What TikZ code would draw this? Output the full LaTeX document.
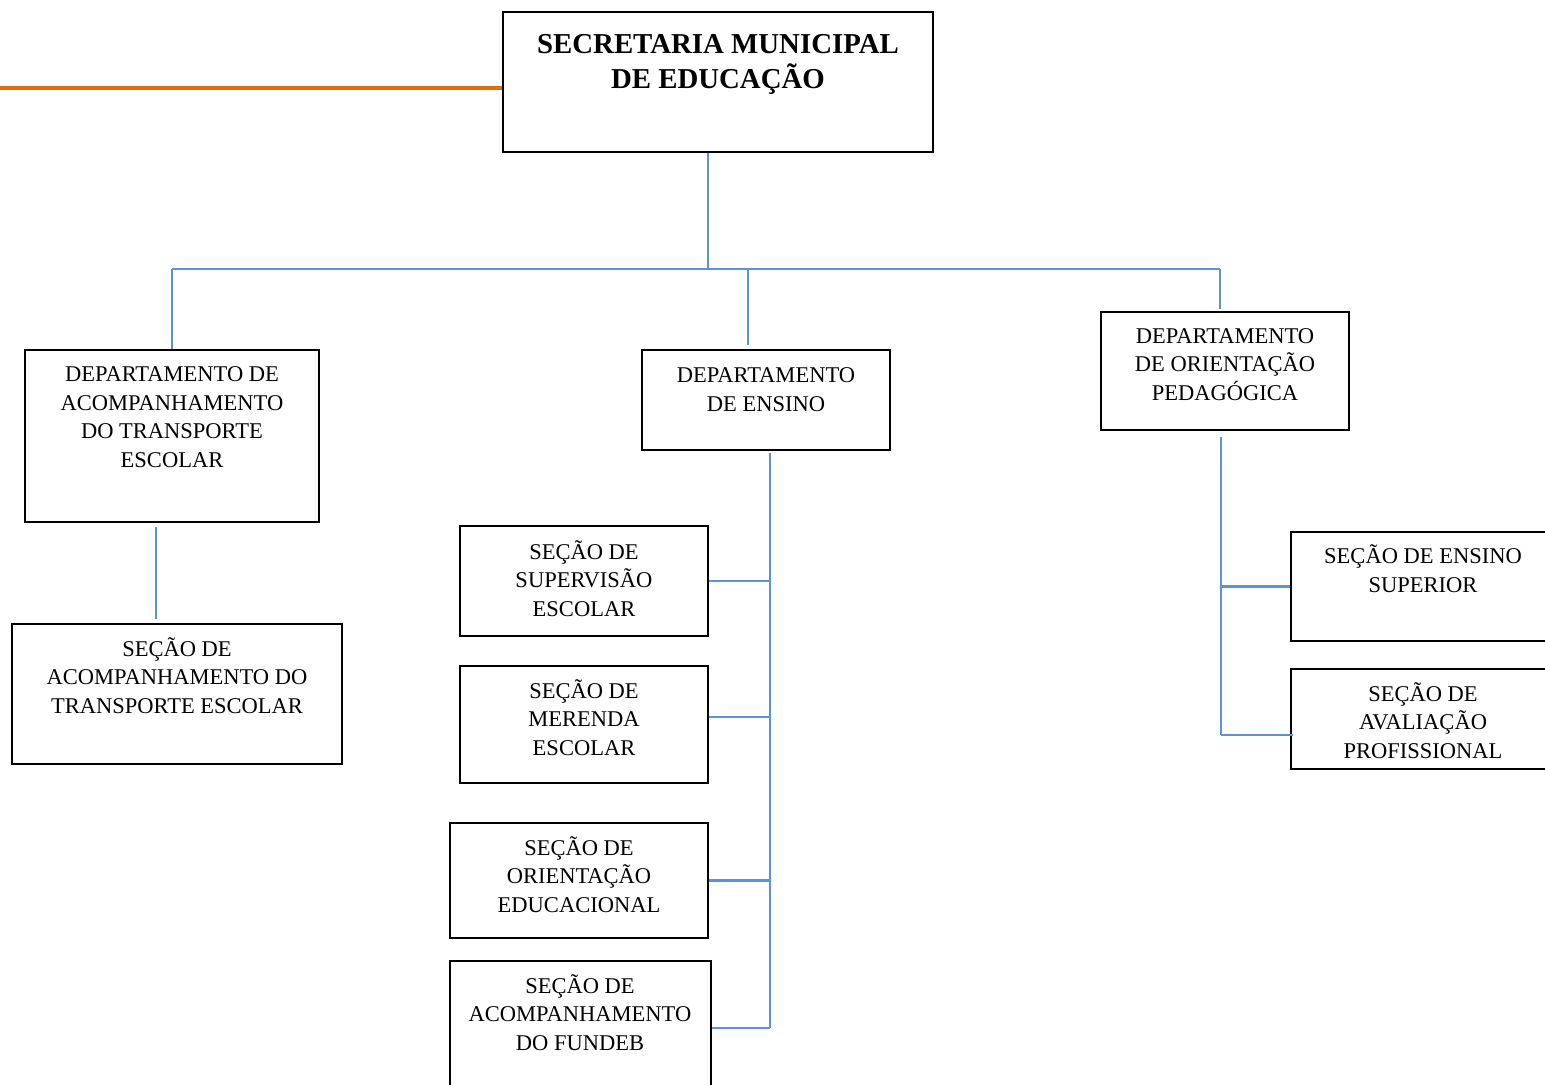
\documentclass[tikz,border=0pt]{standalone}
\usepackage{fontspec}
\setmainfont{Liberation Serif}
\usepackage{xcolor}
\usetikzlibrary{fit,calc}
\definecolor{linkblue}{RGB}{91,146,221}
\definecolor{lineorange}{RGB}{228,108,10}
\tikzstyle{boxed}=[draw, line width=.6pt, inner sep=0pt]
\tikzstyle{link}=[draw=linkblue, line width=.6pt]
\tikzstyle{boxtext}=[align=center, anchor=base, inner sep=0pt, font=\fontsize{6.4}{8.1}\selectfont]
\tikzstyle{titletext}=[align=center, anchor=base, inner sep=0pt, font=\fontsize{8.2}{10.2}\selectfont\bfseries]
% name, corner, corner, baseline of last line, text
\newcommand{\orgBox}[5]{
	\node[boxed, fit={#2 #3}] (#1) {};
	\node[boxtext] (#1-text) at #4 {#5};
}

\begin{document}
\begin{tikzpicture}[x=.01cm, y=-.01cm]
	\useasboundingbox (0,0) rectangle (1545,1085);
	% top box
	\node[boxed, fit={(503,12) (933,152)}] (sec) {};
	\node[titletext] (sec-text) at (718,89) {SECRETARIA MUNICIPAL\\ DE EDUCAÇÃO};
	% departments
	\orgBox{dat}{(25,350)}{(319,522)}{(172,467)}{DEPARTAMENTO DE\\ ACOMPANHAMENTO\\ DO TRANSPORTE\\ ESCOLAR}
	\orgBox{dens}{(642,350)}{(890,450)}{(766,411)}{DEPARTAMENTO\\ DE ENSINO}
	\orgBox{dop}{(1101,312)}{(1349,430)}{(1225,400)}{DEPARTAMENTO\\ DE ORIENTAÇÃO\\ PEDAGÓGICA}
	% sections
	\orgBox{sat}{(12,624)}{(342,764)}{(177,713)}{SEÇÃO DE\\ ACOMPANHAMENTO DO\\ TRANSPORTE ESCOLAR}
	\orgBox{ssup}{(460,526)}{(708,636)}{(584,616)}{SEÇÃO DE\\ SUPERVISÃO\\ ESCOLAR}
	\orgBox{smer}{(460,666)}{(708,783)}{(584,755)}{SEÇÃO DE\\ MERENDA\\ ESCOLAR}
	\orgBox{sori}{(450,823)}{(708,938)}{(579,912)}{SEÇÃO DE\\ ORIENTAÇÃO\\ EDUCACIONAL}
	\orgBox{sfun}{(450,961)}{(711,1095)}{(580,1050)}{SEÇÃO DE\\ ACOMPANHAMENTO\\ DO FUNDEB}
	\orgBox{sens}{(1291,532)}{(1555,641)}{(1423,592)}{SEÇÃO DE ENSINO\\ SUPERIOR}
	\orgBox{saval}{(1291,669)}{(1555,769)}{(1423,758)}{SEÇÃO DE\\ AVALIAÇÃO\\ PROFISSIONAL}
	% orange rule
	\coordinate (edge) at (0,88);
	\draw[lineorange, line width=1pt] (edge) -- (edge -| sec.west);
	% bus
	\coordinate (bus) at (708,269);
	\coordinate (busL) at (172,269);
	\coordinate (busM) at (748,269);
	\coordinate (busR) at (1220,269);
	\draw[link] (sec.south -| bus) -- (bus);
	\draw[link] (busL) -- (busR);
	\draw[link] (busL) -- (dat.north -| busL);
	\draw[link, shorten >=1pt] (busM) -- (dens.north -| busM);
	\draw[link, shorten >=.5pt] (busR) -- (dop.north -| busR);
	% transport
	\coordinate (datX) at (156,0);
	\draw[link, shorten <=1pt, shorten >=1pt] (dat.south -| datX) -- (sat.north -| datX);
	% ensino
	\coordinate (ensX) at (770,0);
	\coordinate (merY) at (0,717);
	\draw[link, shorten <=.5pt] (dens.south -| ensX) -- (sfun.east -| ensX);
	\draw[link] (ssup.east) -- (ssup.east -| ensX);
	\draw[link] (smer.east |- merY) -- (ensX |- merY);
	\draw[link] (sori.east) -- (sori.east -| ensX);
	\draw[link] (sfun.east) -- (sfun.east -| ensX);
	% orientacao
	\coordinate (dopX) at (1221,0);
	\coordinate (avalY) at (0,735);
	\draw[link, shorten <=1.7pt] (dop.south -| dopX) -- (dopX |- avalY);
	\draw[link] (sens.west) -- (sens.west -| dopX);
	\draw[link] (dopX |- avalY) -- ([xshift=1pt]saval.west |- avalY);
\end{tikzpicture}
\end{document}
